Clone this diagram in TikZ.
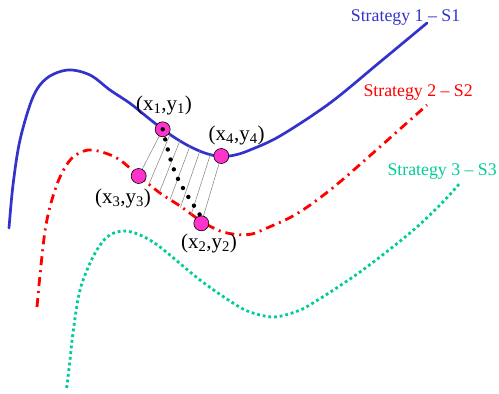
\documentclass[tikz,border=0pt]{standalone}
\usepackage{fontspec}
\setmainfont{Liberation Serif}
\definecolor{sblue}{RGB}{51,51,204}
\definecolor{sred}{RGB}{255,0,0}
\definecolor{sgreen}{RGB}{0,204,153}
\definecolor{spink}{RGB}{255,51,204}
\begin{document}
\begin{tikzpicture}[x=1pt,y=-1pt,
  s1/.style={line width=2.7pt, color=sblue, line cap=round},
  s2/.style={line width=2.8pt, color=sred, dash pattern=on 9pt off 5pt on 2pt off 5pt},
  s3/.style={line width=2.8pt, color=sgreen, dash pattern=on 2.8pt off 2.9pt},
  ptc/.style={circle, draw=black, line width=0.6pt, fill=spink, minimum size=15pt, inner sep=0pt},
  hatch/.style={draw=gray, line width=0.5pt},
  dotline/.style={line width=4.4pt, line cap=round, dash pattern=on 0pt off 10.4pt},
  lbl/.style={font=\fontsize{21}{25}\selectfont, anchor=base, inner sep=0pt},
  slbl/.style={font=\fontsize{17.8}{21}\selectfont, anchor=base west, inner sep=0pt}]
\useasboundingbox (0,0) rectangle (499,394);
% curves
\draw[s1] plot[smooth, tension=0.55] coordinates {(9,228) (13,185) (20,140) (33,97) (47,78) (68,70) (90,75) (110,90) (130,103.3) (146.7,116.7) (162.7,129.3) (180,141) (195,149) (208,154) (221,156.5) (235,155) (250,150) (280,136) (330,103) (380,62) (427,23)};
\draw[s2] plot[smooth, tension=0.55] coordinates {(37,307) (40,275) (45,231) (51,203) (60,177) (72,158) (88,150) (105,153) (120,160) (139,176) (160,193) (180,206) (201,221) (220,231) (237,234.5) (252,234) (267,228) (293,216) (317,200) (348,175) (427,105)};
\draw[s3] plot[smooth, tension=0.55] coordinates {(66.7,388) (70,360) (73,333) (80,290) (93,257) (107,237) (123,231) (140,235) (160,247) (200,280) (233,303) (250,312) (273,317) (295,312) (313,303) (360,272) (410,233) (440,205) (460,183)};
% labels
\node[slbl, text=sblue] (l1) at (350.7,21.7) {Strategy 1 -- S1};
\node[slbl, text=sred] (l2) at (363.3,96.7) {Strategy 2 -- S2};
\node[slbl, text=sgreen] (l3) at (387.3,175) {Strategy 3 -- S3};
% hatch coordinates
\coordinate (a1) at (162.7,129.3);
\coordinate (a2) at (170,134.5);
\coordinate (a3) at (180,140.5);
\coordinate (a4) at (190,146);
\coordinate (a5) at (200,150.5);
\coordinate (a6) at (210.5,154);
\coordinate (a7) at (221.3,156);
\coordinate (b1) at (138.7,176);
\coordinate (b2) at (149.1,183.9);
\coordinate (b3) at (159.6,191.8);
\coordinate (b4) at (170,199.7);
\coordinate (b5) at (180.4,207.6);
\coordinate (b6) at (190.9,215.4);
\coordinate (b7) at (201.3,223.3);
\foreach \i in {1,...,7} \draw[hatch] (a\i) -- (b\i);
% points
\node[ptc] (p1) at (a1) {};
\node[ptc] (p4) at (a7) {};
\node[ptc] (p3) at (b1) {};
\node[ptc] (p2) at (b7) {};
% dotted line
\coordinate (d2) at (200,215);
\draw[dotline] (p1.center) .. controls (174,175) .. (d2);
% point labels
\node[lbl] (t1) at (164,110.7) {(x\textsubscript{1},y\textsubscript{1})};
\node[lbl] (t4) at (236.7,140) {(x\textsubscript{4},y\textsubscript{4})};
\node[lbl] (t3) at (123,203.3) {(x\textsubscript{3},y\textsubscript{3})};
\node[lbl] (t2) at (209,248.3) {(x\textsubscript{2},y\textsubscript{2})};
\end{tikzpicture}
\end{document}
